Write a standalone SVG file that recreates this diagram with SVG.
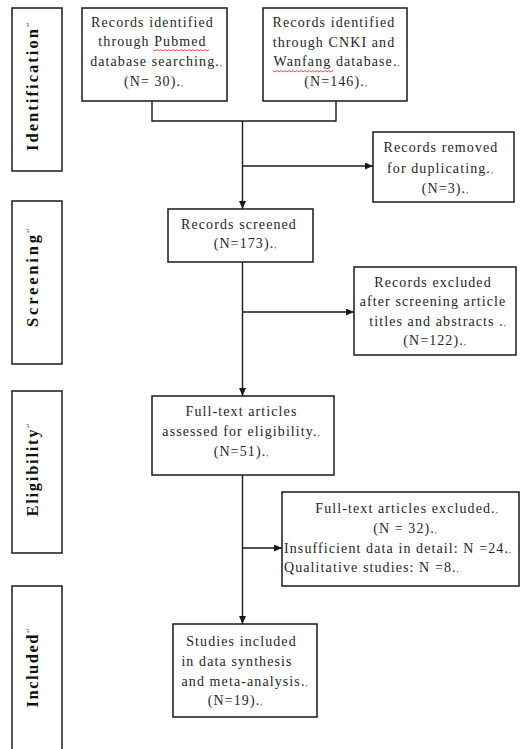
<svg xmlns="http://www.w3.org/2000/svg" width="522" height="749" viewBox="0 0 522 749">
<style>
.bx{fill:#fff;stroke:#1a1a1a;stroke-width:1.5}
.t{font-family:"Liberation Serif","Times New Roman",serif;font-size:14px;fill:#262626;letter-spacing:1.1px;text-anchor:middle}
.ts{text-anchor:start}
.m{font-size:8px;letter-spacing:0}
.side{font-family:"Liberation Serif","Times New Roman",serif;font-size:16.5px;font-weight:bold;fill:#111;text-anchor:middle}
.sm{font-family:"DejaVu Sans",sans-serif;font-size:6px;fill:#555}
.ln{fill:none;stroke:#1a1a1a;stroke-width:1.4}
.sq{fill:none;stroke:#d22;stroke-width:0.8}
</style>
<defs>
<marker id="ah" markerWidth="8" markerHeight="7" refX="8" refY="3.5" orient="auto" markerUnits="userSpaceOnUse">
<path d="M0,0 L8,3.5 L0,7 z" fill="#1a1a1a"/>
</marker>
</defs>
<rect width="522" height="749" fill="#fff"/>

<g id="stage-identification">
<rect class="bx" x="12" y="8" width="50" height="163"/>
<text class="side" transform="translate(38,90) rotate(-90)" x="0" y="0" textLength="122" lengthAdjust="spacing">Identification</text>
<text class="sm" transform="translate(30,27) rotate(-90)">↵</text>
</g>
<g id="stage-screening">
<rect class="bx" x="12" y="201" width="50" height="163"/>
<text class="side" transform="translate(38,281) rotate(-90)" x="0" y="0" textLength="92" lengthAdjust="spacing">Screening</text>
<text class="sm" transform="translate(30,233) rotate(-90)">↵</text>
</g>
<g id="stage-eligibility">
<rect class="bx" x="12" y="391" width="50" height="162"/>
<text class="side" transform="translate(38,473) rotate(-90)" x="0" y="0" textLength="87" lengthAdjust="spacing">Eligibility</text>
<text class="sm" transform="translate(30,428) rotate(-90)">↵</text>
</g>
<g id="stage-included">
<rect class="bx" x="12" y="586" width="50" height="175"/>
<text class="side" transform="translate(38,671) rotate(-90)" x="0" y="0" textLength="73" lengthAdjust="spacing">Included</text>
<text class="sm" transform="translate(30,633) rotate(-90)">↵</text>
</g>

<g id="connectors">
<polyline class="ln" points="152,101 152,121 336,121 336,101"/>
<line class="ln" x1="242.5" y1="121" x2="242.5" y2="209" marker-end="url(#ah)"/>
<line class="ln" x1="242.5" y1="166" x2="373" y2="166" marker-end="url(#ah)"/>
<line class="ln" x1="242.5" y1="262" x2="242.5" y2="396" marker-end="url(#ah)"/>
<line class="ln" x1="242.5" y1="312" x2="354" y2="312" marker-end="url(#ah)"/>
<line class="ln" x1="242.5" y1="475" x2="242.5" y2="624" marker-end="url(#ah)"/>
<line class="ln" x1="242.5" y1="548" x2="282" y2="548" marker-end="url(#ah)"/>
</g>

<g id="pubmed">
<rect class="bx" x="82" y="8" width="145" height="93"/>
<text class="t" x="152.5" y="27">Records identified</text>
<text class="t" x="152.5" y="46">through Pubmed</text>
<path class="sq" d="M153,49.5 l2,1.5 l2,-1.5 l2,1.5 l2,-1.5 l2,1.5 l2,-1.5 l2,1.5 l2,-1.5 l2,1.5 l2,-1.5 l2,1.5 l2,-1.5 l2,1.5 l2,-1.5 l2,1.5 l2,-1.5 l2,1.5 l2,-1.5 l2,1.5 l2,-1.5 l2,1.5 l2,-1.5 l2,1.5 l2,-1.5 l2,1.5 l2,-1.5 l2,1.5 l2,-1.5"/>
<text class="t" x="156" y="66">database searching.<tspan class="m">,</tspan></text>
<text class="t" x="153.5" y="86">(N= 30).<tspan class="m">,</tspan></text>
</g>

<g id="cnki">
<rect class="bx" x="263" y="8" width="144" height="93"/>
<text class="t" x="334" y="27">Records identified</text>
<text class="t" x="334" y="47">through CNKI and</text>
<text class="t" x="336.5" y="66">Wanfang database.<tspan class="m">,</tspan></text>
<path class="sq" d="M273,70.5 l2,1.5 l2,-1.5 l2,1.5 l2,-1.5 l2,1.5 l2,-1.5 l2,1.5 l2,-1.5 l2,1.5 l2,-1.5 l2,1.5 l2,-1.5 l2,1.5 l2,-1.5 l2,1.5 l2,-1.5 l2,1.5 l2,-1.5 l2,1.5 l2,-1.5 l2,1.5 l2,-1.5 l2,1.5 l2,-1.5 l2,1.5 l2,-1.5 l2,1.5 l2,-1.5 l2,1.5 l2,-1.5"/>
<text class="t" x="335.5" y="86">(N=146).<tspan class="m">,</tspan></text>
</g>

<g id="removed">
<rect class="bx" x="373" y="132" width="141" height="70"/>
<text class="t" x="441" y="152">Records removed</text>
<text class="t" x="440" y="173">for duplicating.<tspan class="m">,</tspan></text>
<text class="t" x="445" y="193">(N=3).<tspan class="m">,</tspan></text>
</g>

<g id="screened">
<rect class="bx" x="168" y="209" width="145" height="53"/>
<text class="t" x="239" y="229">Records screened</text>
<text class="t" x="245" y="248">(N=173).<tspan class="m">,</tspan></text>
</g>

<g id="excluded">
<rect class="bx" x="354" y="267" width="162" height="88"/>
<text class="t" x="433" y="287">Records excluded</text>
<text class="t" x="433" y="306">after screening article</text>
<text class="t" x="437.5" y="326">titles and abstracts  .<tspan class="m">,</tspan></text>
<text class="t" x="434.5" y="345">(N=122).<tspan class="m">,</tspan></text>
</g>

<g id="fulltext">
<rect class="bx" x="152" y="396" width="182" height="79"/>
<text class="t" x="241.5" y="416">Full-text articles</text>
<text class="t" x="241" y="436">assessed for eligibility.<tspan class="m">,</tspan></text>
<text class="t" x="241" y="456">(N=51).<tspan class="m">,</tspan></text>
</g>

<g id="ft-excluded">
<rect class="bx" x="282" y="492" width="237" height="94"/>
<text class="t" x="406.5" y="513">Full-text articles excluded.<tspan class="m">,</tspan></text>
<text class="t" x="405" y="533">(N = 32).<tspan class="m">,</tspan></text>
<text class="t ts" x="284" y="553">Insufficient data in detail: N =24.<tspan class="m">,</tspan></text>
<text class="t ts" x="284" y="572">Qualitative studies: N =8.<tspan class="m">,</tspan></text>
</g>

<g id="included">
<rect class="bx" x="173" y="624" width="144" height="93"/>
<text class="t" x="241.5" y="646">Studies included</text>
<text class="t" x="237" y="666">in data synthesis</text>
<text class="t" x="244.5" y="686">and meta-analysis.<tspan class="m">,</tspan></text>
<text class="t" x="235" y="705">(N=19).<tspan class="m">,</tspan></text>
</g>
</svg>
